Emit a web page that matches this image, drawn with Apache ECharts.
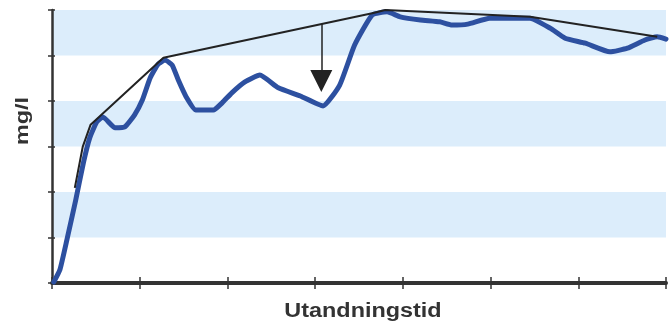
<!DOCTYPE html>
<html>
<head>
<meta charset="utf-8">
<script src="https://cdn.jsdelivr.net/npm/echarts@6/dist/echarts.min.js"></script>
<style>html,body{margin:0;padding:0;background:#fff}#c{width:670px;height:326px}</style>
</head>
<body>
<div id="c"></div>
<script>
// Measured curve (x in axis units 0..7, y in axis units 0..6)
const blueX = [0.02,0.09,0.17,0.27,0.36,0.43,0.51,0.58,0.72,0.83,0.94,1.03,1.12,1.21,1.29,1.37,1.44,1.53,1.64,1.84,1.94,2.05,2.20,2.37,2.58,2.83,3.09,3.28,3.45,3.65,3.82,3.97,4.20,4.42,4.56,4.74,4.99,5.19,5.45,5.68,5.85,6.08,6.36,6.56,6.76,6.90,7.00];
const blueY = [0.02,0.29,0.95,1.82,2.66,3.19,3.54,3.65,3.41,3.43,3.69,4.02,4.51,4.81,4.90,4.79,4.46,4.09,3.80,3.80,3.96,4.18,4.42,4.57,4.29,4.11,3.89,4.35,5.23,5.89,5.96,5.85,5.78,5.74,5.67,5.69,5.82,5.82,5.82,5.60,5.38,5.27,5.08,5.16,5.34,5.41,5.36];
// Envelope line
const envX = [0.26,0.35,0.44,1.27,3.65,3.80,5.45,6.90];
const envY = [2.09,2.99,3.48,4.95,5.93,6.00,5.85,5.41];
// Arrow
const arrowX = 3.07;
const arrowFrom = 5.69;
const arrowTo = 4.44;
// Axis names
const yName = 'mg/l';
const xName = 'Utandningstid';

const zip = (a, b) => a.map((v, i) => [v, b[i]]);
const FONT = '"Liberation Sans", Arial, sans-serif';

const chart = echarts.init(document.getElementById('c'), null, {renderer: 'canvas'});
chart.setOption({
  animation: false,
  grid: {left: 52, right: 4, top: 10, bottom: 43, containLabel: false},
  xAxis: [
    {type: 'value', min: 0, max: 7, interval: 1, position: 'bottom',
     axisLine: {show: true, lineStyle: {color: '#333', width: 4}},
     axisTick: {show: true, length: 6, inside: false, lineStyle: {color: '#333', width: 1.5}},
     axisLabel: {show: false}, splitLine: {show: false}},
    {type: 'value', min: 0, max: 7, interval: 1, position: 'bottom',
     axisLine: {show: false},
     axisTick: {show: true, length: 6, inside: true, lineStyle: {color: '#333', width: 1.5}},
     axisLabel: {show: false}, splitLine: {show: false}}
  ],
  yAxis: [
    {type: 'value', min: 0, max: 6, interval: 1, position: 'left',
     axisLine: {show: true, lineStyle: {color: '#333', width: 2.5}},
     axisTick: {show: true, length: 4, inside: false, lineStyle: {color: '#333', width: 1.5}},
     axisLabel: {show: false}, splitLine: {show: false},
     splitArea: {show: true, areaStyle: {color: ['#ffffff', '#dcedfb']}}},
    {type: 'value', min: 0, max: 6, interval: 1, position: 'left',
     axisLine: {show: false},
     axisTick: {show: true, length: 3, inside: true, lineStyle: {color: '#333', width: 1.5}},
     axisLabel: {show: false}, splitLine: {show: false}}
  ],
  series: [
    {type: 'line', data: zip(blueX, blueY), showSymbol: false, symbol: 'none', smooth: 0.15,
     lineStyle: {color: '#2d50a0', width: 5, join: 'round', cap: 'round'}, z: 3},
    {type: 'line', data: zip(envX, envY), showSymbol: false, symbol: 'none',
     lineStyle: {color: '#222', width: 2}, z: 4,
     markLine: {silent: true, symbol: ['none', 'triangle'], symbolSize: [22, 22],
       lineStyle: {color: '#222', width: 1.5, type: 'solid'},
       itemStyle: {color: '#222'},
       label: {show: false},
       data: [[{coord: [arrowX, arrowFrom]}, {coord: [arrowX, arrowTo]}]]}}
  ],
  graphic: [
    {type: 'text', x: 363, y: 312, scaleX: 1.2,
     style: {text: xName, font: 'bold 19.5px ' + FONT, fill: '#333', align: 'center', verticalAlign: 'middle'}},
    {type: 'text', x: 23, y: 121, rotation: Math.PI / 2, scaleX: 1.3,
     style: {text: yName, font: 'bold 18px ' + FONT, fill: '#333', align: 'center', verticalAlign: 'middle'}}
  ]
});
</script>
</body>
</html>
